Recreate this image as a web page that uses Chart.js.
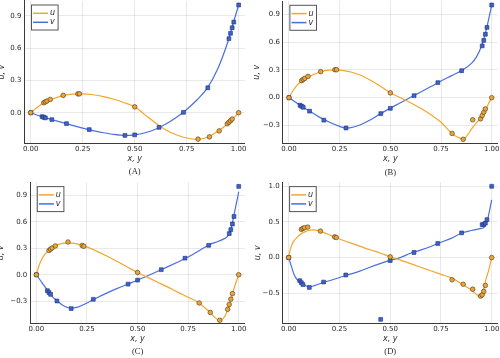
<!DOCTYPE html>
<html><head><meta charset="utf-8">
<script src="https://cdn.jsdelivr.net/npm/chart.js@4"></script>
<style>
html,body{margin:0;padding:0;background:#fff;overflow:hidden;width:500px;height:358px;position:relative}
canvas{position:absolute}
</style></head><body>
<canvas id="cA"></canvas><canvas id="cB"></canvas><canvas id="cC"></canvas><canvas id="cD"></canvas>
<script>
// ---------- data ----------
const seriesNames = ['u', 'v'];
const panelLabels = ['(A)', '(B)', '(C)', '(D)'];
const xTickVals = [0, 0.25, 0.5, 0.75, 1.0];
const yTicksA = [0, 0.3, 0.6, 0.9];
const yTicksB = [-0.3, 0, 0.3, 0.6, 0.9];
const yTicksC = [-0.3, 0, 0.3, 0.6, 0.9];
const yTicksD = [-0.5, 0, 0.5, 1.0];

// reference markers
const uMarkX = [0, 0.0625, 0.0703, 0.0781, 0.0938, 0.1563, 0.2266, 0.2344, 0.5, 0.8047, 0.8594, 0.9063, 0.9453, 0.9531, 0.9609, 0.9688, 1.0];
const vMarkX = [0, 0.0547, 0.0625, 0.0703, 0.1016, 0.1719, 0.2813, 0.4531, 0.5, 0.6172, 0.7344, 0.8516, 0.9531, 0.9609, 0.9688, 0.9766, 1.0];
const uMarkA = [0, 0.0923, 0.1009, 0.1089, 0.1232, 0.1608, 0.1751, 0.1753, 0.0545, -0.2453, -0.2245, -0.1691, -0.1031, -0.0886, -0.0739, -0.0591, 0];
const vMarkA = [0, -0.0372, -0.0419, -0.0478, -0.0643, -0.1015, -0.1566, -0.2109, -0.2058, -0.1364, 0.0033, 0.2315, 0.6872, 0.7372, 0.7887, 0.8412, 1.0];
const uMarkB = [0, 0.1836, 0.1971, 0.2092, 0.2297, 0.2812, 0.3020, 0.3017, 0.0519, -0.3860, -0.4499, -0.2383, -0.2285, -0.1925, -0.1566, -0.1215, 0];
const vMarkB = [0, -0.0819, -0.0927, -0.1034, -0.1461, -0.2430, -0.3273, -0.1712, -0.1148, 0.0214, 0.1626, 0.2909, 0.5589, 0.6176, 0.6844, 0.7584, 1.0];
const uMarkC = [0, 0.2749, 0.2901, 0.3035, 0.3263, 0.3710, 0.3308, 0.3224, 0.0253, -0.3197, -0.4267, -0.5155, -0.3919, -0.3371, -0.2767, -0.2139, 0];
const vMarkC = [0, -0.1811, -0.2020, -0.2222, -0.2973, -0.3829, -0.2781, -0.1065, -0.0608, 0.0570, 0.1872, 0.3330, 0.4660, 0.5112, 0.5749, 0.6593, 1.0];
const uMarkD = [0, 0.3956, 0.4092, 0.4191, 0.4277, 0.3712, 0.2903, 0.2819, 0.0100, -0.3118, -0.3740, -0.4431, -0.5405, -0.5236, -0.4743, -0.3902, 0];
const vMarkD = [0, -0.3241, -0.3534, -0.3783, -0.4193, -0.3432, -0.2443, -0.8664, -0.0427, 0.0716, 0.1979, 0.3468, 0.4610, 0.4655, 0.4830, 0.5324, 1.0];

// computed curves
const uCurveXA = [0,0.025,0.05,0.075,0.1,0.15,0.2,0.25,0.3,0.35,0.4,0.45,0.5,0.55,0.6,0.65,0.7,0.75,0.8,0.85,0.9,0.95,1.0];
const uCurveA  = [0,0.04,0.077,0.103,0.125,0.157,0.172,0.175,0.167,0.15,0.125,0.093,0.055,-0.02,-0.095,-0.16,-0.205,-0.235,-0.247,-0.228,-0.172,-0.098,0];
const vCurveXA = [0,0.05,0.1,0.15,0.2,0.25,0.3,0.35,0.4,0.45,0.5,0.55,0.6,0.65,0.7,0.75,0.8,0.85,0.9,0.95,0.975,1.0];
const vCurveA  = [0,-0.034,-0.063,-0.09,-0.118,-0.143,-0.166,-0.186,-0.202,-0.21,-0.205,-0.186,-0.153,-0.105,-0.045,0.03,0.12,0.23,0.41,0.67,0.84,1.0];

const uCurveXB = [0,0.02,0.04,0.0625,0.08,0.1,0.15,0.2,0.25,0.3,0.35,0.4,0.45,0.5,0.55,0.6,0.65,0.7,0.75,0.8,0.83,0.86,0.885,0.9,0.925,0.945,0.96,0.975,0.99,1.0];
const uCurveB  = [0,0.075,0.135,0.18,0.205,0.228,0.275,0.297,0.298,0.28,0.245,0.19,0.125,0.053,0.0,-0.055,-0.115,-0.185,-0.265,-0.38,-0.425,-0.445,-0.39,-0.34,-0.27,-0.222,-0.16,-0.105,-0.04,0];
const vCurveXB = [0,0.05,0.1,0.15,0.2,0.25,0.28,0.3,0.35,0.4,0.45,0.5,0.55,0.6,0.65,0.7,0.75,0.8,0.85,0.9,0.925,0.95,0.975,1.0];
const vCurveB  = [0,-0.075,-0.143,-0.21,-0.265,-0.31,-0.327,-0.325,-0.295,-0.24,-0.175,-0.113,-0.055,0.005,0.062,0.12,0.18,0.235,0.29,0.37,0.44,0.56,0.75,1.0];

const uCurveXC = [0,0.01,0.02,0.04,0.0625,0.08,0.1,0.13,0.16,0.2,0.25,0.3,0.35,0.4,0.45,0.5,0.55,0.6,0.65,0.7,0.75,0.8,0.83,0.86,0.88,0.905,0.92,0.935,0.95,0.965,0.98,1.0];
const uCurveC  = [0,0.08,0.145,0.225,0.28,0.31,0.335,0.355,0.362,0.35,0.315,0.265,0.21,0.15,0.087,0.025,-0.03,-0.085,-0.14,-0.2,-0.255,-0.315,-0.37,-0.43,-0.48,-0.515,-0.5,-0.455,-0.37,-0.25,-0.13,0];
const vCurveXC = [0,0.02,0.04,0.0625,0.08,0.1,0.13,0.17,0.2,0.25,0.3,0.35,0.4,0.45,0.5,0.55,0.6,0.65,0.7,0.75,0.8,0.85,0.9,0.935,0.95,0.96,0.975,1.0];
const vCurveC  = [0,-0.065,-0.13,-0.2,-0.25,-0.29,-0.345,-0.378,-0.37,-0.32,-0.26,-0.205,-0.155,-0.108,-0.062,-0.012,0.04,0.092,0.145,0.2,0.265,0.335,0.38,0.415,0.45,0.5,0.66,0.94];

const uCurveXD = [0,0.005,0.013,0.025,0.04,0.06,0.08,0.1,0.12,0.153,0.2,0.227,0.25,0.3,0.35,0.4,0.45,0.5,0.55,0.6,0.65,0.7,0.75,0.8,0.83,0.86,0.9,0.926,0.94,0.95,0.963,0.972,0.984,1.0];
const uCurveD  = [0,0.08,0.16,0.23,0.28,0.33,0.36,0.38,0.388,0.37,0.32,0.283,0.26,0.21,0.16,0.11,0.065,0.01,-0.035,-0.085,-0.135,-0.185,-0.235,-0.285,-0.33,-0.385,-0.455,-0.52,-0.55,-0.51,-0.42,-0.3,-0.19,0];
const vCurveXD = [0,0.013,0.03,0.046,0.07,0.1,0.13,0.17,0.2,0.25,0.276,0.3,0.35,0.4,0.45,0.5,0.55,0.6,0.65,0.7,0.737,0.8,0.852,0.9,0.95,0.96,0.967,0.98,1.0];
const vCurveD  = [0,-0.12,-0.26,-0.325,-0.37,-0.415,-0.39,-0.35,-0.325,-0.28,-0.255,-0.235,-0.19,-0.135,-0.085,-0.04,0.0,0.06,0.105,0.155,0.2,0.27,0.345,0.38,0.41,0.42,0.44,0.54,0.81];

// ---------- style / layout ----------
const ORANGE = '#f2a62c', BLUE = '#4a6fdc';
const FONT = 'DejaVu Sans';
Chart.defaults.font.family = FONT;
Chart.defaults.color = '#2a2a2a';

const pts = (xs, ys) => xs.map((x, i) => ({x, y: ys[i]}));
const fmtY = v => (v < 0 ? '\u2212' : '') + Math.abs(v).toFixed(1);
const fmtX = v => v.toFixed(2);

const legendPlugin = {
  id: 'inLegend',
  afterDraw(chart) {
    const ctx = chart.ctx, ca = chart.chartArea;
    const x0 = ca.left + 7, y0 = ca.top + 4.3, w = 26.6, h = 25;
    ctx.save();
    ctx.fillStyle = '#fff';
    ctx.fillRect(x0, y0, w, h);
    ctx.strokeStyle = '#555';
    ctx.lineWidth = 1;
    ctx.strokeRect(x0, y0, w, h);
    const cols = [ORANGE, BLUE];
    seriesNames.forEach((n, i) => {
      const y = y0 + 8.3 + i * 9;
      ctx.strokeStyle = cols[i];
      ctx.lineWidth = 1.5;
      ctx.beginPath(); ctx.moveTo(x0 + 1.6, y); ctx.lineTo(x0 + 16.6, y); ctx.stroke();
      ctx.fillStyle = '#2a2a2a';
      ctx.font = 'italic 8px "' + FONT + '"';
      ctx.textBaseline = 'middle';
      ctx.textAlign = 'left';
      ctx.fillText(n, x0 + 18.5, y);
    });
    const cap = chart.options.plugins.caption;
    ctx.font = '8.5px "Liberation Serif"';
    ctx.fillStyle = '#2a2a2a';
    ctx.textAlign = 'center';
    ctx.textBaseline = 'middle';
    ctx.fillText(cap.text, (ca.left + ca.right) / 2, ca.bottom + cap.dy);
    ctx.restore();
  }
};

function panel(id, P) {
  const cv = document.getElementById(id);
  const xH = 20.7, capH = 14;
  const boxLeft = Math.round(P.titleX - 5.8);
  const boxTop = Math.round(P.T - 10);
  const W = Math.ceil(P.R - boxLeft + 12);
  const H = Math.ceil(P.B - boxTop + xH + capH);
  cv.width = W; cv.height = H;
  cv.style.width = W + 'px'; cv.style.height = H + 'px';
  cv.style.left = boxLeft + 'px'; cv.style.top = boxTop + 'px';
  const yW = P.L - boxLeft;
  new Chart(cv, {
    type: 'scatter',
    data: {
      datasets: [
        {data: pts(uMarkX, P.uMark), showLine: false, pointStyle: 'circle', pointRadius: 2.3,
         backgroundColor: '#eba43a', borderColor: '#4a3814', borderWidth: 0.6, order: 0},
        {data: pts(vMarkX, P.vMark), showLine: false, pointStyle: 'rect', pointRadius: 2.7,
         backgroundColor: '#3d63cf', borderColor: '#1c2f75', borderWidth: 0.6, order: 0},
        {data: pts(P.uCX, P.uC), showLine: true, pointRadius: 0, borderColor: ORANGE, borderWidth: 1.2,
         cubicInterpolationMode: 'monotone', order: 1},
        {data: pts(P.vCX, P.vC), showLine: true, pointRadius: 0, borderColor: BLUE, borderWidth: 1.2,
         cubicInterpolationMode: 'monotone', order: 2}
      ]
    },
    options: {
      responsive: false, maintainAspectRatio: false, animation: false, devicePixelRatio: 1,
      events: [],
      layout: {padding: {left: 0, top: P.T - boxTop, right: W - (P.R - boxLeft), bottom: H - (P.B - boxTop) - xH}},
      plugins: {legend: {display: false}, tooltip: {enabled: false},
                caption: {text: P.caption, dy: P.capDy}},
      scales: {
        x: {
          type: 'linear', min: -0.03, max: 1.03,
          afterFit(s) { s.height = xH; },
          afterBuildTicks(s) { s.ticks = xTickVals.map(v => ({value: v})); },
          ticks: {callback: fmtX, font: {size: 7}, padding: 2, maxRotation: 0, autoSkip: false},
          grid: {color: 'rgba(0,0,0,0.085)', drawTicks: false, lineWidth: 1},
          border: {display: true, color: '#3a3a3a', width: 1},
          title: {display: true, text: 'x, y', font: {size: 8, style: 'italic'}, padding: {top: 0, bottom: 0}}
        },
        y: {
          type: 'linear', min: P.ymin, max: P.ymax,
          afterFit(s) { s.width = yW; },
          afterBuildTicks(s) { s.ticks = P.yTicks.map(v => ({value: v})); },
          ticks: {callback: fmtY, font: {size: 7}, padding: 3, autoSkip: false},
          grid: {color: 'rgba(0,0,0,0.085)', drawTicks: false, lineWidth: 1},
          border: {display: true, color: '#3a3a3a', width: 1},
          title: {display: true, text: 'u, v', font: {size: 8, style: 'italic'}, padding: {top: 1, bottom: 0}}
        }
      }
    },
    plugins: [legendPlugin]
  });
}

panel('cA', {L: 24.5, R: 244.9, T: 0.7, B: 143.4, titleX: 1.5, ymin: -0.285, ymax: 1.04, yTicks: yTicksA,
  uMark: uMarkA, vMark: vMarkA, uCX: uCurveXA, uC: uCurveA, vCX: vCurveXA, vC: vCurveA, caption: panelLabels[0], capDy: 28.6});
panel('cB', {L: 282.9, R: 497.8, T: 1.0, B: 143.4, titleX: 257, ymin: -0.4935, ymax: 1.0435, yTicks: yTicksB,
  uMark: uMarkB, vMark: vMarkB, uCX: uCurveXB, uC: uCurveB, vCX: vCurveXB, vC: vCurveB, caption: panelLabels[1], capDy: 29.4});
panel('cC', {L: 30.3, R: 244.8, T: 182.3, B: 323.3, titleX: 1, ymin: -0.55, ymax: 1.047, yTicks: yTicksC,
  uMark: uMarkC, vMark: vMarkC, uCX: uCurveXC, uC: uCurveC, vCX: vCurveXC, vC: vCurveC, caption: panelLabels[2], capDy: 28});
panel('cD', {L: 282.6, R: 497.8, T: 182.3, B: 323.3, titleX: 257.3, ymin: -0.922, ymax: 1.056, yTicks: yTicksD,
  uMark: uMarkD, vMark: vMarkD, uCX: uCurveXD, uC: uCurveD, vCX: vCurveXD, vC: vCurveD, caption: panelLabels[3], capDy: 28});
</script>
</body></html>
